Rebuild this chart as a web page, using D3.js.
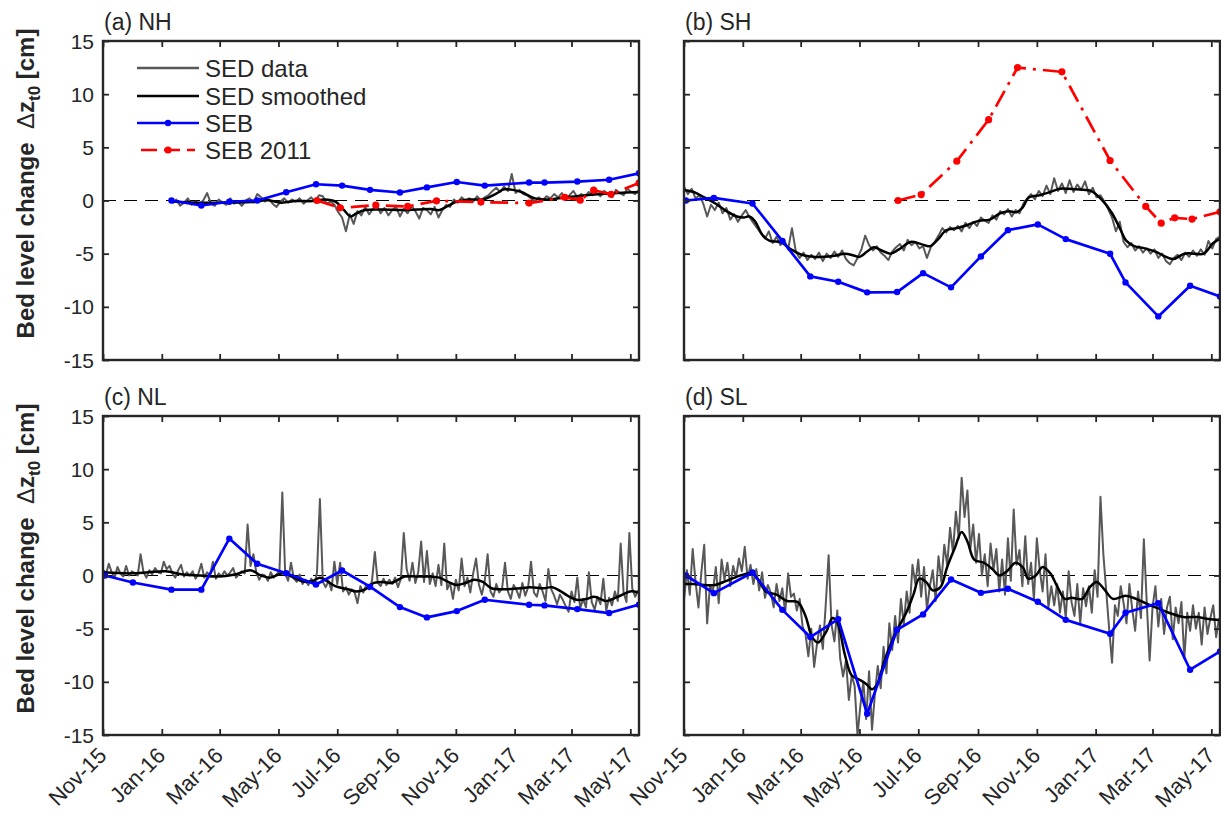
<!DOCTYPE html>
<html>
<head>
<meta charset="utf-8">
<script src="https://cdn.jsdelivr.net/npm/d3@7"></script>
<style>
  body { margin: 0; background: #fff; }
  text { font-family: "Liberation Sans", Arial, Helvetica, sans-serif; fill: #262626; }
</style>
</head>
<body>
<svg id="fig" width="1221" height="819"></svg>
<script>
// ---- axis settings ----
const X_START = "2015-11-01";
const X_END = "2017-05-10";
const xTickLabels = ["Nov-15", "Jan-16", "Mar-16", "May-16", "Jul-16", "Sep-16", "Nov-16", "Jan-17", "Mar-17", "May-17"];
const yTickValues = [-15, -10, -5, 0, 5, 10, 15];
const panelTitles = ["(a) NH", "(b) SH", "(c) NL", "(d) SL"];
const legendLabels = ["SED data", "SED smoothed", "SEB", "SEB 2011"];

// ---- SEB survey dates and bed level change [cm] ----
const sebDates = ["2015-11-03", "2015-12-02", "2016-01-11", "2016-02-11", "2016-03-11", "2016-04-09", "2016-05-09",
  "2016-06-09", "2016-07-06", "2016-08-04", "2016-09-04", "2016-10-02", "2016-11-02", "2016-12-01",
  "2017-01-16", "2017-02-01", "2017-03-07", "2017-04-09", "2017-05-10"];
const sebNH = [null, null, 0, -0.47, -0.12, 0, 0.78, 1.53, 1.4, 1.0, 0.75, 1.23, 1.74, 1.4, 1.69, 1.69, 1.78, 1.95, 2.56];
const sebSH = [0, 0.25, -0.28, -3.8, -7.14, -7.64, -8.64, -8.61, -6.83, -8.17, -5.26, -2.79, -2.25, -3.63, -5.01, -7.7, -10.9, -8.02, -9.02];
const sebNL = [0, -0.66, -1.33, -1.33, 3.47, 1.1, 0.22, -0.85, 0.47, -1.05, -2.97, -3.94, -3.35, -2.28, -2.75, -2.81, -3.16, -3.53, -2.74];
const sebSL = [0, -1.66, 0.28, -3.23, -5.79, -4.1, -13.0, -5.1, -3.66, -0.38, -1.63, -1.25, -2.47, -4.17, -5.48, -3.51, -2.6, -8.86, -7.14];

// ---- SEB 2011 dates and values (high-water stations only) ----
const seb11Dates = ["2016-06-10", "2016-07-04", "2016-08-10", "2016-09-12", "2016-10-12", "2016-11-27",
  "2017-01-16", "2017-02-22", "2017-03-10", "2017-03-24", "2017-04-11", "2017-05-10"];
const seb11NH = [0, -0.69, -0.44, -0.56, -0.03, -0.15, -0.24, 0.3, 0.03, 0.97, 0.58, 1.64];
const seb11SH = [0, 0.56, 3.7, 7.6, 12.5, 12.1, 3.76, -0.56, -2.13, -1.63, -1.75, -1.06];

// ---- SED record: first sample date, sampling interval [days], values [cm] ----
const sedStartNH = "2016-01-12", sedStepNH = 4;
const sedNH = [
  -0.3, 0.1, -0.5, -0.2, 0.2, -0.4, -0.1, -0.3, 0.0, 0.7,
  -0.3, -0.5, 0.1, -0.2, -0.4, 0.2, -0.3, -0.1, -0.5, 0.0,
  0.2, -0.2, 0.6, 0.3, -0.1, 0.1, -0.3, -0.6, -0.1, 0.2,
  -0.2, 0.1, -0.1, 0.2, -0.3, 0.0, 0.3, -0.1, 0.5, 0.4,
  -0.3, -0.1, -0.4, -1.1, -1.6, -2.9, -1.3, -2.2, -1.0, -1.4,
  -0.6, -1.3, -0.8, -0.5, -1.2, -0.7, -1.4, -0.9, -0.6, -1.5,
  -0.8, -1.2, -0.5, -1.0, -1.7, -0.7, -0.9, -1.3, -0.6, -1.6,
  -0.9, -0.4, -0.6, 0.1, -0.2, 0.3, 0.0, 0.2, -0.1, 0.4,
  0.0, 0.3, 0.5, 0.9, 1.2, 0.8, 1.3, 0.9, 2.5, 0.7,
  1.0, 0.6, 0.5, 0.2, -0.1, 0.3, 0.0, 0.4, 0.2, 0.6,
  0.3, 0.7, 0.2, 0.5, 0.9, 0.3, 0.6, 0.4, 0.8, 0.5,
  0.7, 0.4, 0.9, 0.6, 0.3, 1.0, 0.7, 0.5, 1.1, 0.8,
  0.6, 1.0];

const sedStartSH = "2015-11-01", sedStepSH = 4;
const sedSH = [
  1.3, 0.6, 1.1, 0.2, 0.5, -0.3, -1.5, -0.4, -0.9, -0.2,
  -1.2, -0.7, -1.8, -1.3, -2.0, -1.4, -0.9, -1.6, -2.1, -2.6,
  -3.1, -3.6, -2.9, -4.0, -3.4, -4.2, -3.7, -4.6, -2.6, -4.8,
  -5.4, -4.9, -5.6, -5.1, -5.5, -4.9, -5.7, -5.0, -5.4, -4.8,
  -5.3, -4.7, -5.5, -5.9, -6.1, -5.4, -4.6, -3.3, -4.2, -4.7,
  -4.3, -4.9, -5.2, -5.6, -4.8, -4.4, -4.1, -4.7, -3.7, -4.2,
  -3.9, -4.5, -4.3, -5.4, -4.4, -3.9, -3.3, -2.6, -3.0, -2.5,
  -2.8, -2.4, -2.9, -2.1, -2.6, -2.0, -2.4, -1.6, -1.9, -2.1,
  -1.4, -1.8, -1.0, -1.3, -0.8, -1.5, -0.9, -1.2, -0.3, 0.2,
  0.6, 0.1, 0.9, 0.4, 1.4, 0.6, 2.1, 0.9, 1.6, 0.7,
  1.9, 0.8, 1.5, 1.0, 1.8, 0.6, 1.2, 0.3, 0.5, -0.1,
  -0.8, -1.6, -2.9, -2.0, -3.9, -4.4, -4.0, -4.7, -4.3, -4.9,
  -4.5, -5.0, -4.6, -5.4, -5.0, -5.7, -6.0, -5.4, -5.1, -5.6,
  -4.9, -5.3, -4.7, -5.2, -4.6, -5.1, -3.8, -4.5, -3.6, -3.4];

const sedStartNL = "2015-11-01", sedStepNL = 3;
const sedNL = [
  0.6, 0.1, 1.1, 0.3, -0.2, 0.8, 0.2, -0.1, 0.9, 0.0,
  0.4, 0.2, 0.0, 2.0, 0.3, -0.2, 0.5, 0.1, 0.7, 0.3,
  0.2, 1.3, 0.6, 0.9, 0.2, -0.2, 0.5, 1.0, -0.1, 0.3,
  0.0, 0.4, -0.3, 0.2, 1.1, -0.2, 0.3, 0.0, 1.3, -0.3,
  0.2, -0.1, 0.4, 0.0, 0.3, 0.7, -0.2, 0.1, 0.4, 0.2,
  4.8, 0.9, 2.0, 0.3, -0.4, 0.1, 0.0, -0.5, 0.3, -0.2,
  0.1, 0.4, 7.8, 0.2, -0.5, 1.2, -0.3, -0.6, 0.1, -0.8,
  -0.4, -0.9, -0.3, -1.0, 0.3, 7.2, -0.6, -1.1, -0.5, -1.4,
  1.3, -0.8, 1.2, -1.5, -1.1, -1.8, -1.3, -1.6, -2.6, -1.0,
  -1.6, -0.9, -1.3, -0.5, 2.2, -0.7, -1.0, -0.3, -0.9, -0.4,
  -0.8, -0.2, -1.1, -0.3, 4.0, 0.6, -0.5, 1.2, -0.7, 0.3,
  3.2, -0.6, 2.3, -0.8, 0.2, -1.0, 1.0, -0.9, 3.0, -1.3,
  -0.7, -2.2, -0.4, -1.4, 1.6, -1.0, -0.2, -1.6, 0.2, 1.6,
  -0.9, -1.8, -0.5, 2.0, -1.5, -2.0, -0.8, -1.6, -1.2, 1.2,
  -1.5, -2.2, -0.9, -1.4, -2.1, -0.7, -1.9, -1.1, 1.3, -1.6,
  -2.0, -0.8, -1.5, -2.4, 0.6, -1.3, -1.9, -2.7, -1.8, -2.3,
  -2.9, -3.4, -1.5, -2.5, -0.2, -3.1, -2.2, -3.0, 0.3, -2.5,
  -3.2, -2.0, -2.7, -0.3, -3.3, -2.1, -2.8, -1.5, -2.4, 3.0,
  -1.6, -2.5, 4.0, -1.2, -2.0, -1.4];

const sedStartSL = "2015-11-01", sedStepSL = 3;
const sedSL = [
  -2.3, 0.5, -1.8, 2.5, -0.6, -3.0, 0.3, 2.9, -4.5, -0.9,
  -1.5, 0.8, -2.6, 1.5, -0.4, 1.2, -1.0, 0.9, -0.2, 1.6,
  0.4, 2.7, -0.3, 1.0, -0.8, 0.6, -1.4, 0.3, -2.1, -0.9,
  -1.6, -3.0, -0.8, -2.4, -1.2, -3.5, 0.2, -2.0, -1.7, -3.3,
  -2.2, -4.8, -5.5, -7.6, -5.0, -8.6, -6.4, -4.7, -6.9, -2.8,
  1.9, -4.6, -6.2, -3.3, -7.8, -9.5, -8.0, -11.7, -9.4, -10.4,
  -15.0, -12.2, -10.0, -13.5, -9.0, -14.5, -11.2, -8.5, -10.6, -6.7,
  -9.2, -4.5, -7.0, -3.8, -6.3, -2.2, -4.6, -1.5, -3.5, 1.0,
  -0.8, 1.5, -2.0, 0.8, -3.2, -1.0, 0.5, -2.4, 1.8, -0.6,
  2.9, 1.0, 4.5, 2.2, 6.0, 3.5, 9.2, 5.5, 8.0, 2.5,
  4.8, 1.2, 3.9, 0.0, 2.0, -1.0, 3.0, 0.5, 2.5, -1.5,
  1.5, -1.8, 3.5, -0.5, 6.2, 1.0, 2.4, -1.0, 3.7, -0.8,
  1.2, -2.3, 3.5, 0.5, -1.5, 2.0, -3.0, -1.0, -2.8, -0.8,
  -3.5, -1.5, -4.0, 0.4, -2.5, -3.8, -0.8, -4.5, -1.2, -2.9,
  -1.0, -3.5, 0.5, -2.0, 7.4, 2.0, -1.5, -5.0, -8.2, -2.8,
  -3.8, -1.0, -2.6, -4.5, -0.8, -3.2, -5.2, -1.5, -4.0, 3.4,
  -2.5, -8.0, -3.0, -1.0, -4.8, -2.2, -5.5, -3.0, -2.0, -6.0,
  -3.0, -4.5, -2.5, -7.8, -3.5, -5.2, -2.8, -5.0, -3.5, -6.5,
  -3.0, -5.5, -4.0, -2.8, -5.8, -4.0];

// ---- smoothed SED: days since 2015-11-01 and values [cm] ----
const smDaysNH = [72, 97, 128, 160, 169, 185, 200, 218, 230, 241, 250, 257, 263, 272, 290, 308, 326, 340, 349, 358,
  367, 380, 394, 407, 416, 425, 434, 448, 461, 480, 497, 515, 534, 556];
const smNH = [-0.1, -0.2, -0.2, -0.1, 0.05, -0.2, -0.05, -0.05, 0.1, -0.1, -0.9, -1.5, -1.2, -0.9, -0.85, -0.9, -0.85, -0.8, -0.9, -0.5,
  -0.1, 0.1, 0.1, 0.6, 1.05, 1.0, 0.8, 0.2, 0.1, 0.3, 0.45, 0.6, 0.7, 0.8];

const smDaysSH = [0, 10, 21, 33, 44, 55, 62, 68, 74, 81, 89, 100, 111, 122, 134, 145, 156, 167, 177, 182,
  190, 197, 205, 214, 223, 235, 246, 255, 263, 272, 283, 294, 306, 317, 328, 337, 345, 351, 358, 369,
  380, 390, 399, 414, 422, 433, 444, 452, 459, 467, 478, 489, 500, 508, 519, 530, 539, 549, 556];
const smSH = [1.0, 0.8, 0.3, -0.3, -1.0, -1.5, -1.6, -1.5, -2.0, -3.2, -3.8, -3.9, -4.6, -5.1, -5.3, -5.3, -5.2, -5.0, -5.2, -5.3,
  -4.8, -4.4, -4.7, -5.0, -4.6, -3.9, -4.1, -4.3, -3.7, -2.8, -2.6, -2.3, -1.9, -1.8, -1.2, -1.0, -1.1, -0.7, 0.3, 0.5,
  0.8, 1.1, 1.1, 1.0, 0.9, 0.1, -1.2, -2.6, -3.8, -4.3, -4.5, -4.8, -5.3, -5.5, -5.0, -5.0, -5.0, -4.0, -3.6];

const smDaysNL = [0, 29, 47, 65, 83, 101, 119, 137, 153, 164, 173, 187, 200, 209, 218, 225, 232, 241, 254, 263,
  272, 281, 290, 299, 313, 326, 340, 349, 358, 367, 376, 385, 394, 403, 416, 434, 443, 457, 466, 475,
  484, 493, 502, 509, 516, 522, 534, 547, 555];
const smNL = [0.3, 0.2, 0.3, 0.4, 0.1, 0.0, -0.1, 0.1, 0.5, 0.0, -0.2, 0.2, -0.3, -0.6, -0.5, -0.2, -0.5, -1.0, -1.3, -1.5,
  -1.3, -0.7, -0.6, -0.7, -0.1, -0.1, -0.1, -0.2, -0.6, -0.9, -0.7, -0.4, -0.6, -1.2, -1.3, -1.2, -1.1, -1.2, -1.1, -1.5,
  -2.0, -2.3, -2.2, -2.0, -2.2, -2.4, -2.0, -1.5, -1.6];

const smDaysSL = [0, 10, 21, 32, 44, 55, 62, 70, 77, 85, 96, 107, 118, 126, 133, 139, 148, 154, 159, 167,
  174, 182, 189, 195, 200, 208, 220, 230, 238, 244, 251, 258, 266, 273, 281, 288, 294, 301, 311, 320,
  327, 335, 344, 352, 357, 365, 372, 380, 387, 395, 402, 413, 421, 428, 436, 445, 458, 469, 481, 492,
  503, 518, 533, 544, 556];
const smSL = [-0.8, -0.8, -0.9, -0.9, -0.5, -0.1, 0.1, 0.2, -0.4, -1.5, -1.8, -2.4, -2.5, -3.8, -5.8, -6.3, -5.2, -4.0, -4.4, -7.5,
  -9.4, -9.8, -10.2, -10.7, -10.3, -8.0, -5.3, -3.6, -1.8, -0.3, -0.6, -1.4, -1.1, 0.8, 2.6, 4.1, 3.2, 1.5, 1.2, 0.6,
  0.0, 0.4, 1.2, 0.7, -0.3, 0.0, 0.8, 0.2, -1.0, -2.2, -2.1, -2.2, -1.1, -0.6, -1.3, -2.2, -1.9, -2.2, -2.7, -3.1,
  -3.5, -3.9, -3.9, -4.1, -4.2];

// ---- figure ----
const svg = d3.select("#fig");
svg.append("rect").attr("width", 1221).attr("height", 819).attr("fill", "#fff");

const parseDate = d3.utcParse("%Y-%m-%d");
const parseTick = d3.utcParse("%b-%y");
const fmtTick = d3.utcFormat("%b-%y");
const t0 = parseDate(X_START);
const dayToDate = n => d3.utcDay.offset(t0, n);
const sedSeries = (start, step, vals) => vals.map((v, i) => ({ t: d3.utcDay.offset(parseDate(start), i * step), v }));
const pairs = (dates, vals) => dates.map((d, i) => ({ t: d, v: vals[i] }));

const COL = { axis: "#262626", sed: "#585858", smooth: "#000000", seb: "#0000ff", seb11: "#ff0000" };
const DASH11 = "18,7,3,7";
const tickDates = xTickLabels.map(parseTick);

const panels = [
  { title: panelTitles[0], x0: 103, x1: 639, y0: 41, y1: 360, yLabels: true, xLabels: false,
    sed: sedSeries(sedStartNH, sedStepNH, sedNH), sm: pairs(smDaysNH.map(dayToDate), smNH),
    seb: pairs(sebDates.map(parseDate), sebNH), seb11: pairs(seb11Dates.map(parseDate), seb11NH), legend: true },
  { title: panelTitles[1], x0: 684, x1: 1220, y0: 41, y1: 360, yLabels: false, xLabels: false,
    sed: sedSeries(sedStartSH, sedStepSH, sedSH), sm: pairs(smDaysSH.map(dayToDate), smSH),
    seb: pairs(sebDates.map(parseDate), sebSH), seb11: pairs(seb11Dates.map(parseDate), seb11SH) },
  { title: panelTitles[2], x0: 103, x1: 639, y0: 416, y1: 735, yLabels: true, xLabels: true,
    sed: sedSeries(sedStartNL, sedStepNL, sedNL), sm: pairs(smDaysNL.map(dayToDate), smNL),
    seb: pairs(sebDates.map(parseDate), sebNL) },
  { title: panelTitles[3], x0: 684, x1: 1220, y0: 416, y1: 735, yLabels: false, xLabels: true,
    sed: sedSeries(sedStartSL, sedStepSL, sedSL), sm: pairs(smDaysSL.map(dayToDate), smSL),
    seb: pairs(sebDates.map(parseDate), sebSL) }
];

panels.forEach((p, idx) => {
  const x = d3.scaleUtc().domain([t0, parseDate(X_END)]).range([p.x0, p.x1]);
  const y = d3.scaleLinear().domain([-15, 15]).range([p.y1, p.y0]);
  const g = svg.append("g");
  const clipId = "clip" + idx;
  g.append("clipPath").attr("id", clipId).append("rect")
    .attr("x", p.x0).attr("y", p.y0).attr("width", p.x1 - p.x0).attr("height", p.y1 - p.y0);
  const plot = g.append("g").attr("clip-path", `url(#${clipId})`);

  // zero reference
  plot.append("line").attr("x1", p.x0).attr("x2", p.x1).attr("y1", y(0)).attr("y2", y(0))
    .attr("stroke", "#000").attr("stroke-width", 1.2).attr("stroke-dasharray", "13,8");

  const line = d3.line().defined(d => d.v != null).x(d => x(d.t)).y(d => y(d.v));

  plot.append("path").datum(p.sed).attr("d", line).attr("fill", "none")
    .attr("stroke", COL.sed).attr("stroke-width", 2).attr("stroke-linejoin", "round");

  plot.append("path").datum(p.sm).attr("d", line.curve(d3.curveCatmullRom.alpha(0.5))).attr("fill", "none")
    .attr("stroke", COL.smooth).attr("stroke-width", 2.5);
  line.curve(d3.curveLinear);

  const seb = p.seb.filter(d => d.v != null);
  plot.append("path").datum(seb).attr("d", line).attr("fill", "none")
    .attr("stroke", COL.seb).attr("stroke-width", 2.7).attr("stroke-linejoin", "round");
  plot.selectAll(".sebpt").data(seb).join("circle").attr("class", "sebpt")
    .attr("cx", d => x(d.t)).attr("cy", d => y(d.v)).attr("r", 3.2).attr("fill", COL.seb);

  if (p.seb11) {
    plot.append("path").datum(p.seb11).attr("d", line).attr("fill", "none")
      .attr("stroke", COL.seb11).attr("stroke-width", 2.7).attr("stroke-dasharray", DASH11);
    plot.selectAll(".seb11pt").data(p.seb11).join("circle").attr("class", "seb11pt")
      .attr("cx", d => x(d.t)).attr("cy", d => y(d.v)).attr("r", 3.6).attr("fill", COL.seb11);
  }

  // axes with inward ticks on all four sides
  const tk = 6;
  const ax = g.append("g").attr("class", "axes");
  ax.append("g").attr("transform", `translate(0,${p.y1})`)
    .call(d3.axisBottom(x).tickValues(tickDates).tickSizeInner(-tk).tickSizeOuter(0).tickFormat(""));
  ax.append("g").attr("transform", `translate(0,${p.y0})`)
    .call(d3.axisTop(x).tickValues(tickDates).tickSizeInner(-tk).tickSizeOuter(0).tickFormat(""));
  ax.append("g").attr("transform", `translate(${p.x0},0)`)
    .call(d3.axisLeft(y).tickValues(yTickValues).tickSizeInner(-tk).tickSizeOuter(0).tickFormat(""));
  ax.append("g").attr("transform", `translate(${p.x1},0)`)
    .call(d3.axisRight(y).tickValues(yTickValues).tickSizeInner(-tk).tickSizeOuter(0).tickFormat(""));
  ax.selectAll(".domain").remove();
  ax.selectAll(".tick line").attr("stroke", COL.axis).attr("stroke-width", 1.8);

  g.append("rect").attr("x", p.x0).attr("y", p.y0).attr("width", p.x1 - p.x0).attr("height", p.y1 - p.y0)
    .attr("fill", "none").attr("stroke", COL.axis).attr("stroke-width", 2.4);

  if (p.yLabels) {
    g.selectAll(".ylab").data(yTickValues).join("text").attr("class", "ylab")
      .attr("x", p.x0 - 9).attr("y", d => y(d)).attr("dy", "0.36em")
      .attr("text-anchor", "end").attr("font-size", 21).text(d => d);

    const lab = g.append("text")
      .attr("transform", `translate(34,${(p.y0 + p.y1) / 2 - 17}) rotate(-90)`)
      .attr("text-anchor", "middle").attr("font-size", 24).attr("font-weight", "bold");
    lab.append("tspan").text("Bed level change\u00a0\u00a0");
    lab.append("tspan").attr("font-weight", "normal").text("\u0394");
    lab.append("tspan").text("z");
    lab.append("tspan").attr("font-size", 17).attr("dy", 6).text("t0");
    lab.append("tspan").attr("dy", -6).text("\u00a0[cm]");
  }

  if (p.xLabels) {
    g.selectAll(".xlab").data(tickDates).join("text").attr("class", "xlab")
      .attr("transform", d => `translate(${x(d) - 3},${p.y1 + 14}) rotate(-45)`)
      .attr("text-anchor", "end").attr("dy", "0.5em").attr("font-size", 22).text(d => fmtTick(d));
  }

  g.append("text").attr("x", p.x0 + 1).attr("y", p.y0 - 11).attr("font-size", 23).text(p.title);

  if (p.legend) {
    const lg = g.append("g");
    const lx0 = 137, lx1 = 199, tx = 205, rows = [68, 96, 123, 150];
    const styles = [
      { stroke: COL.sed, w: 2.4, dash: null, dot: null },
      { stroke: COL.smooth, w: 2.6, dash: null, dot: null },
      { stroke: COL.seb, w: 2.7, dash: null, dot: 3.2 },
      { stroke: COL.seb11, w: 2.7, dash: "16,7", dot: 3.6 }
    ];
    legendLabels.forEach((name, i) => {
      const s = styles[i];
      const ln = lg.append("line").attr("x1", lx0).attr("x2", lx1).attr("y1", rows[i]).attr("y2", rows[i])
        .attr("stroke", s.stroke).attr("stroke-width", s.w);
      if (s.dash) ln.attr("x1", lx0 + 4).attr("x2", lx1 - 4).attr("stroke-dasharray", s.dash);
      if (s.dot) lg.append("circle").attr("cx", (lx0 + lx1) / 2).attr("cy", rows[i]).attr("r", s.dot).attr("fill", s.stroke);
      lg.append("text").attr("x", tx).attr("y", rows[i]).attr("dy", "0.36em").attr("font-size", 24).text(name);
    });
  }
});
</script>
</body>
</html>
